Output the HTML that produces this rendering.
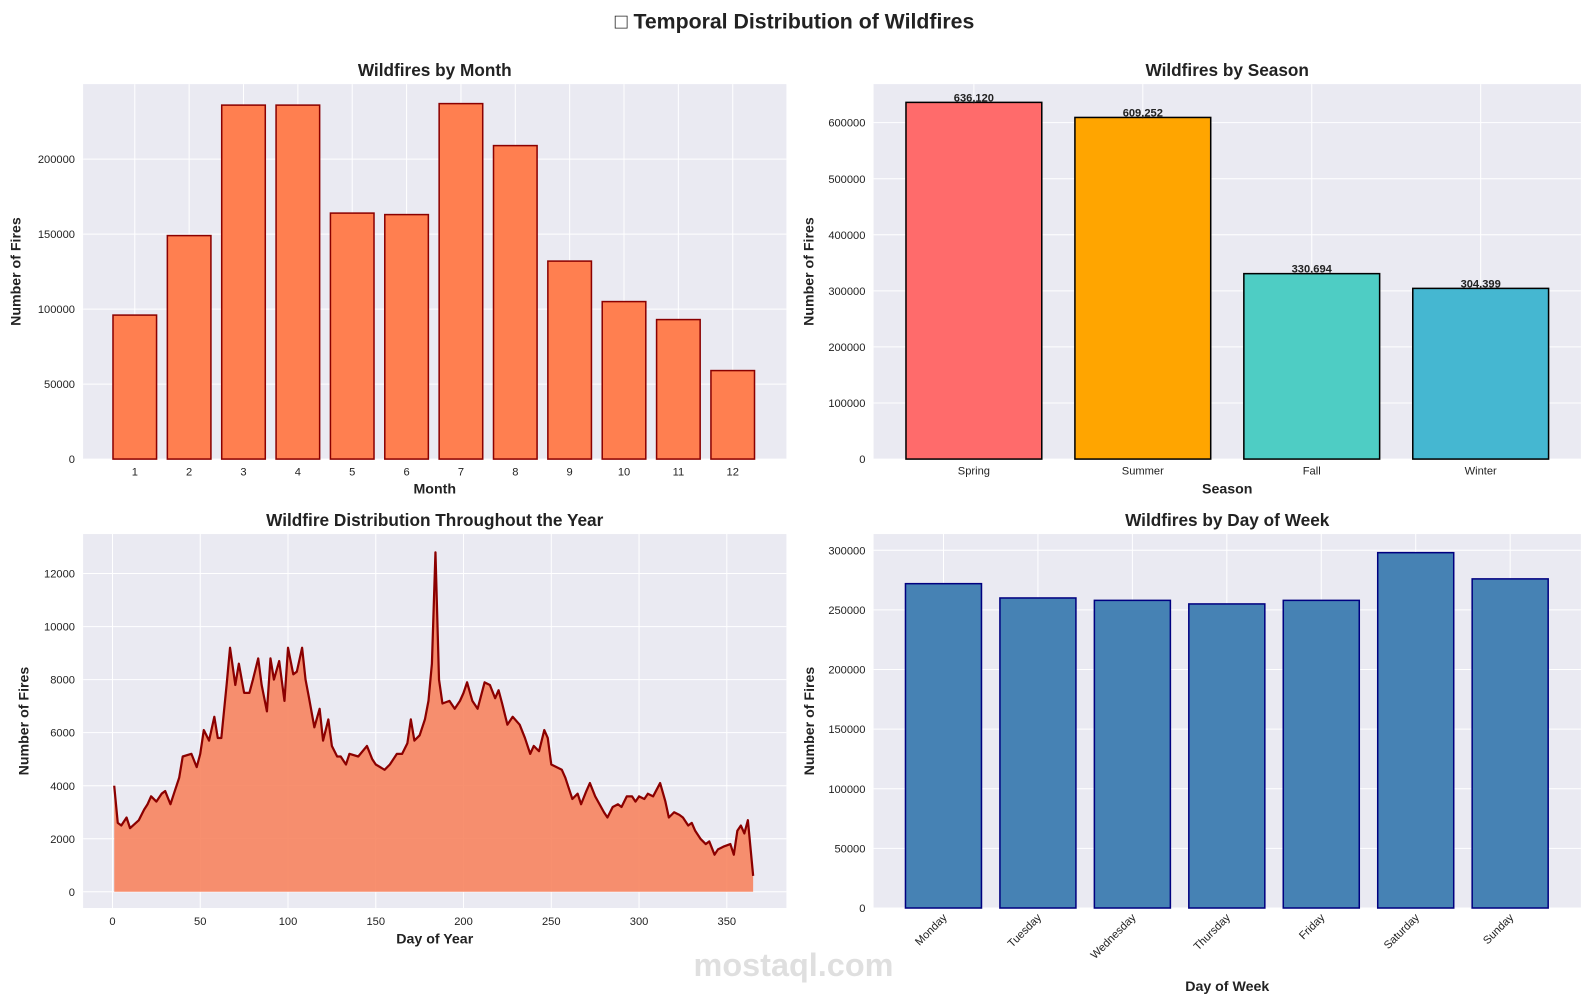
<!DOCTYPE html>
<html><head><meta charset="utf-8"><style>
html,body{margin:0;padding:0;background:#fff;}
svg{display:block;font-family:"Liberation Sans","DejaVu Sans",sans-serif;}
</style></head><body>
<svg id="c" width="1589" height="1004" xmlns="http://www.w3.org/2000/svg">
<g id="root" transform="scale(1.0134)">
<text x="784" y="28" text-anchor="middle" font-size="21" font-weight="bold" fill="#222">□ Temporal Distribution of Wildfires</text>
<text x="783" y="963" text-anchor="middle" font-size="32" font-weight="bold" fill="#d8d8d8" opacity="0.8">mostaql.com</text>
</g>
</svg>
<script>
const monthCats=[1,2,3,4,5,6,7,8,9,10,11,12];
const monthVals=[96000,149000,236000,236000,164000,163000,237000,209000,132000,105000,93000,59000];
const monthTicks=[0,50000,100000,150000,200000];
const seasonCats=["Spring","Summer","Fall","Winter"];
const seasonVals=[636120,609252,330694,304399];
const seasonLabels=["636,120","609,252","330,694","304,399"];
const seasonTicks=[0,100000,200000,300000,400000,500000,600000];
const dowCats=["Monday","Tuesday","Wednesday","Thursday","Friday","Saturday","Sunday"];
const dowVals=[272000,260000,258000,255000,258000,298000,276000];
const dowTicks=[0,50000,100000,150000,200000,250000,300000];
const doyDays=[1,3,5,8,10,15,18,20,22,25,28,30,33,35,38,40,45,48,50,52,55,58,60,62,65,67,70,72,75,78,80,83,85,88,90,92,95,98,100,103,105,108,110,112,115,118,120,123,125,128,130,133,135,140,145,148,150,155,158,162,165,168,170,172,175,178,180,182,184,186,188,192,195,198,200,202,205,208,212,215,218,220,222,225,228,232,235,238,240,243,246,248,250,253,256,258,260,262,265,267,270,272,275,280,282,285,288,290,293,296,298,300,303,305,308,312,315,317,320,323,325,328,330,332,335,338,340,343,345,348,352,354,356,358,360,362,365];
const doyVals=[4000,2600,2500,2800,2400,2700,3100,3300,3600,3400,3700,3800,3300,3700,4300,5100,5200,4700,5200,6100,5700,6600,5800,5800,7800,9200,7800,8600,7500,7500,8000,8800,7800,6800,8800,8000,8700,7200,9200,8200,8300,9200,8000,7300,6200,6900,5700,6500,5500,5100,5100,4800,5200,5100,5500,5000,4800,4600,4800,5200,5200,5600,6500,5700,5900,6500,7200,8600,12800,8000,7100,7200,6900,7200,7500,7900,7200,6900,7900,7800,7300,7600,7100,6300,6600,6300,5800,5200,5500,5300,6100,5800,4800,4700,4600,4300,3900,3500,3700,3300,3800,4100,3600,3000,2800,3200,3300,3200,3600,3600,3400,3600,3500,3700,3600,4100,3400,2800,3000,2900,2800,2500,2600,2300,2000,1800,1900,1400,1600,1700,1800,1400,2300,2500,2200,2700,600];
const doyXTicks=[0,50,100,150,200,250,300,350];
const doyYTicks=[0,2000,4000,6000,8000,10000,12000];

const root=document.getElementById('root');
const NS="http://www.w3.org/2000/svg";
function mk(tag,attrs,parent){const e=document.createElementNS(NS,tag);for(const k in attrs)e.setAttribute(k,attrs[k]);(parent||root).appendChild(e);return e;}
function txt(x,y,s,size,opts,parent){const t=mk('text',Object.assign({x:x,y:y,'font-size':size,fill:'#222'},opts||{}),parent);t.textContent=s;return t;}

function panel(name,x0,y0,x1,y1,title,xlabel,ylabel,xlabY,ylabX){
  const g=mk('g',{});
  
  
  const bg=mk('rect',{x:x0,y:y0,width:x1-x0,height:y1-y0,fill:'#EAEAF2'},g);
  
  
  const t=txt((x0+x1)/2,y0-8,title,17,{'text-anchor':'middle','font-weight':'bold'},g);
  
  
  const xl=txt((x0+x1)/2,xlabY,xlabel,14,{'text-anchor':'middle','font-weight':'bold'},g);
  
  
  const yl=txt(ylabX,(y0+y1)/2,ylabel,14,{'text-anchor':'middle','font-weight':'bold',transform:'rotate(-90 '+ylabX+' '+(y0+y1)/2+')'},g);
  
  
  return g;
}
function yGrid(g,ticks,ys,x0,x1){
  ticks.forEach(v=>{const y=ys(v);
    const l=mk('line',{x1:x0,x2:x1,y1:y,y2:y,stroke:'#fff','stroke-width':1},g);
    
    
    const t=txt(x0-8,y+4,String(v),11,{'text-anchor':'end'},g);
    
    
  });
}
function xGridLine(g,x,y0,y1){
  const l=mk('line',{x1:x,x2:x,y1:y0,y2:y1,stroke:'#fff','stroke-width':1},g);
  
  
}

(function(){
  const x0=82,x1=776,y0=83,y1=453;
  const g=panel('month-chart',x0,y0,x1,y1,'Wildfires by Month','Month','Number of Fires',487,20);
  const ys=v=>y1-(v/250000)*(y1-y0);
  const xs=i=>133+(i-1)*53.64;
  monthCats.forEach(c=>xGridLine(g,xs(c),y0,y1));
  yGrid(g,monthTicks,ys,x0,x1);
  monthCats.forEach((c,i)=>{
    const r=mk('rect',{x:xs(c)-21.5,y:ys(monthVals[i]),width:43,height:y1-ys(monthVals[i]),fill:'#FF7F50',stroke:'#8B0000','stroke-width':1.5},g);
    
    
    const t=txt(xs(c),y1+16,String(c),11,{'text-anchor':'middle'},g);
    
    
  });
})();

(function(){
  const x0=862,x1=1560,y0=83,y1=453;
  const g=panel('season-chart',x0,y0,x1,y1,'Wildfires by Season','Season','Number of Fires',487,803);
  const ys=v=>y1-(v/668700)*(y1-y0);
  const xs=i=>961+i*166.7;
  const cols=['#FF6B6B','#FFA500','#4ECDC4','#45B7D1'];
  seasonCats.forEach((c,i)=>xGridLine(g,xs(i),y0,y1));
  yGrid(g,seasonTicks,ys,x0,x1);
  seasonCats.forEach((c,i)=>{
    const r=mk('rect',{x:xs(i)-67,y:ys(seasonVals[i]),width:134,height:y1-ys(seasonVals[i]),fill:cols[i],stroke:'#000','stroke-width':1.5},g);
    
    
    const v=txt(xs(i),ys(seasonVals[i])-1,seasonLabels[i],11,{'text-anchor':'middle','font-weight':'bold'},g);
    
    
    const t=txt(xs(i),y1+15,c,11,{'text-anchor':'middle'},g);
    
    
  });
})();

(function(){
  const x0=82,x1=776,y0=527,y1=896;
  const g=panel('day-of-year-chart',x0,y0,x1,y1,'Wildfire Distribution Throughout the Year','Day of Year','Number of Fires',931,28);
  const xs=d=>111+d*1.732;
  const ys=v=>880-v*0.02617;
  doyXTicks.forEach(d=>{xGridLine(g,xs(d),y0,y1);
    const t=txt(xs(d),y1+17,String(d),11,{'text-anchor':'middle'},g);
    
    });
  yGrid(g,doyYTicks,ys,x0,x1);
  let pts=doyDays.map((d,i)=>xs(d).toFixed(1)+','+ys(doyVals[i]).toFixed(1));
  const area=mk('polygon',{points:xs(doyDays[0])+','+ys(0)+' '+pts.join(' ')+' '+xs(doyDays[doyDays.length-1])+','+ys(0),fill:'#F7845F','fill-opacity':0.9},g);
  
  
  const line=mk('polyline',{points:pts.join(' '),fill:'none',stroke:'#8B0000','stroke-width':2.2,'stroke-linejoin':'round'},g);
  
  
})();

(function(){
  const x0=862,x1=1560,y0=527,y1=896;
  const g=panel('day-of-week-chart',x0,y0,x1,y1,'Wildfires by Day of Week','Day of Week','Number of Fires',978,803);
  const ys=v=>y1-(v/313600)*(y1-y0);
  const xs=i=>931+i*93.2;
  dowCats.forEach((c,i)=>xGridLine(g,xs(i),y0,y1));
  yGrid(g,dowTicks,ys,x0,x1);
  dowCats.forEach((c,i)=>{
    const r=mk('rect',{x:xs(i)-37.5,y:ys(dowVals[i]),width:75,height:y1-ys(dowVals[i]),fill:'#4682B4',stroke:'#000080','stroke-width':1.5},g);
    
    
    const tx=xs(i)+4,ty=y1+10;
    const t=txt(tx,ty,c,11,{'text-anchor':'end',transform:'rotate(-45 '+tx+' '+ty+')'},g);
    
    
  });
})();
</script>
</body></html>
